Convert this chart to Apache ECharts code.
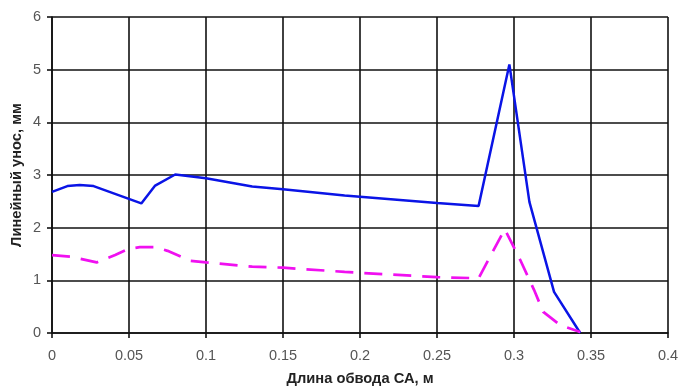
<!DOCTYPE html>
<html>
<head>
<meta charset="utf-8">
<style>
  html, body { margin: 0; padding: 0; background: #fff; }
  #chart { width: 680px; height: 387px; }
</style>
<script src="https://cdn.jsdelivr.net/npm/echarts@6/dist/echarts.min.js"></script>
</head>
<body>
<div id="chart"></div>
<script>
// Distance along the contour (m) and linear recession (mm) for each curve
const solidDist = [0, 0.01, 0.018, 0.027, 0.058, 0.067, 0.08, 0.1, 0.13, 0.15, 0.19, 0.25, 0.277, 0.297, 0.31, 0.326, 0.343];
const solidVals = [2.68, 2.79, 2.81, 2.79, 2.46, 2.8, 3.01, 2.94, 2.78, 2.73, 2.61, 2.47, 2.41, 5.1, 2.49, 0.78, 0.0];

const dashDist = [0, 0.012, 0.029, 0.041, 0.05, 0.057, 0.067, 0.075, 0.09, 0.1, 0.13, 0.15, 0.19, 0.25, 0.277, 0.294, 0.304, 0.313, 0.319, 0.33, 0.343];
const dashVals = [1.48, 1.45, 1.34, 1.48, 1.6, 1.63, 1.63, 1.56, 1.37, 1.34, 1.26, 1.24, 1.16, 1.06, 1.04, 1.97, 1.39, 0.82, 0.40, 0.15, 0.02];

const xTitle = 'Длина обвода СА, м';
const yTitle = 'Линейный унос, мм';

const pair = (xs, ys) => xs.map((x, i) => [x, ys[i]]);

const chart = echarts.init(document.getElementById('chart'), null, { renderer: 'canvas' });
const fontFamily = 'Liberation Sans, Arial, sans-serif';
const tickFont = { fontFamily, fontSize: 14.5, color: '#555' };
const titleFont = { fontFamily, fontSize: 14.7, fontWeight: 'bold', color: '#222' };
const gridLine = { show: true, lineStyle: { color: '#111', width: 1.6 } };
const axisStroke = { color: '#111', width: 1.6 };

chart.setOption({
  animation: false,
  backgroundColor: '#fff',
  grid: { left: 52, right: 12, top: 17, bottom: 54, containLabel: false, outerBoundsMode: 'none' },
  xAxis: {
    type: 'value', min: 0, max: 0.4, interval: 0.05,
    name: xTitle, nameLocation: 'middle', nameGap: 38, nameMoveOverlap: false,
    nameTextStyle: titleFont,
    axisLine: { show: true, lineStyle: axisStroke },
    axisTick: { show: true, length: 5, lineStyle: axisStroke },
    axisLabel: Object.assign({ margin: 15 }, tickFont),
    splitLine: gridLine
  },
  yAxis: {
    type: 'value', min: 0, max: 6, interval: 1,
    name: yTitle, nameLocation: 'middle', nameGap: 28, nameRotate: 90, nameMoveOverlap: false,
    nameTextStyle: titleFont,
    axisLine: { show: true, lineStyle: axisStroke },
    axisTick: { show: true, length: 5, lineStyle: axisStroke },
    axisLabel: Object.assign({ margin: 11 }, tickFont),
    splitLine: gridLine
  },
  series: [
    {
      type: 'line', data: pair(solidDist, solidVals), showSymbol: false,
      lineStyle: { color: '#0a14e6', width: 2.5 }, z: 3
    },
    {
      type: 'line', data: pair(dashDist, dashVals), showSymbol: false,
      lineStyle: { color: '#f010f0', width: 2.7, type: [18, 11] }, z: 4
    }
  ]
});
</script>
</body>
</html>
